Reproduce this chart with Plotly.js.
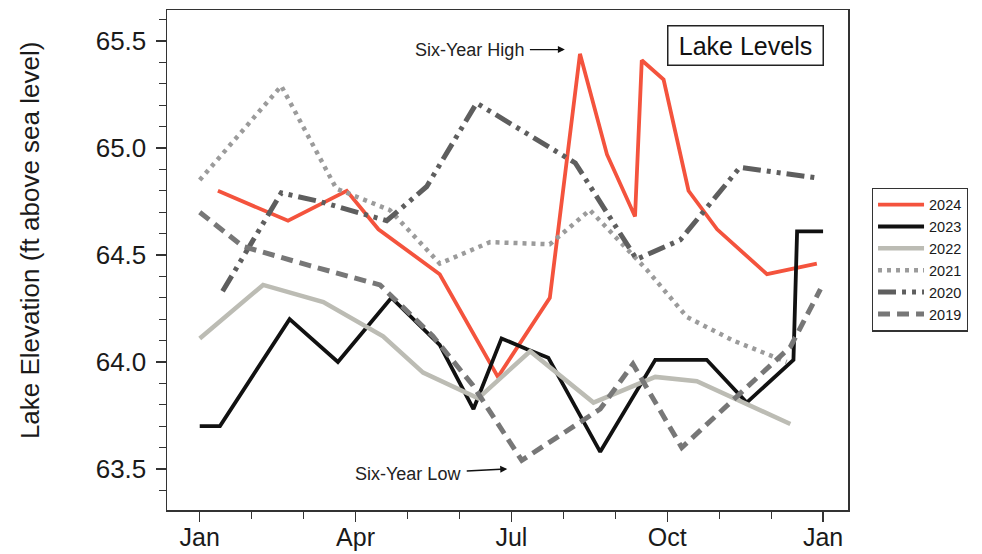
<!DOCTYPE html>
<html>
<head>
<meta charset="utf-8">
<script src="https://cdn.plot.ly/plotly-3.0.1.min.js"></script>
<style>html,body{margin:0;padding:0;background:#fff;}#chart{width:982px;height:554px;}</style>
</head>
<body>
<div id="chart"></div>
<script>
// Month position (0 = Jan, 12 = next Jan) and lake level (ft)
const months2024 = [0.35, 1.70, 2.83, 3.44, 4.62, 5.74, 6.74, 7.32, 7.84, 8.38, 8.51, 8.93, 9.41, 9.96, 10.92, 11.88];
const level2024  = [64.80, 64.66, 64.80, 64.62, 64.41, 63.93, 64.30, 65.44, 64.97, 64.68, 65.41, 65.32, 64.80, 64.62, 64.41, 64.46];

const months2023 = [0, 0.39, 1.73, 2.66, 3.69, 4.62, 5.27, 5.81, 6.29, 6.71, 7.71, 8.77, 9.76, 10.53, 11.43, 11.50, 12.0];
const level2023  = [63.70, 63.70, 64.20, 64.00, 64.30, 64.08, 63.78, 64.11, 64.06, 64.02, 63.58, 64.01, 64.01, 63.81, 64.01, 64.61, 64.61];

const months2022 = [0, 1.22, 2.38, 3.53, 4.30, 5.36, 6.36, 7.58, 8.77, 9.57, 11.37];
const level2022  = [64.11, 64.36, 64.28, 64.12, 63.95, 63.83, 64.05, 63.81, 63.93, 63.91, 63.71];

const months2021 = [0, 1.57, 2.63, 3.66, 4.62, 5.59, 6.74, 7.51, 8.61, 9.38, 10.27, 11.30];
const level2021  = [64.85, 65.29, 64.81, 64.71, 64.46, 64.56, 64.55, 64.71, 64.43, 64.21, 64.10, 64.00];

const months2020 = [0.44, 1.57, 2.31, 3.60, 4.37, 5.33, 7.23, 8.41, 9.25, 10.40, 11.88];
const level2020  = [64.33, 64.79, 64.75, 64.66, 64.82, 65.21, 64.93, 64.48, 64.57, 64.91, 64.86];

const months2019 = [0, 0.83, 2.12, 3.47, 4.49, 5.26, 6.20, 7.71, 8.34, 9.28, 11.37, 11.95];
const level2019  = [64.70, 64.54, 64.45, 64.36, 64.12, 63.89, 63.54, 63.78, 63.99, 63.60, 64.07, 64.34];

const tickVals   = [0, 3, 6, 9, 12];
const tickLabels = ['Jan', 'Apr', 'Jul', 'Oct', 'Jan'];
const yTickVals  = [63.5, 64.0, 64.5, 65.0, 65.5];

const FONT = 'Liberation Sans, Arial, Helvetica, sans-serif';

const traces = [
  {x: months2024, y: level2024, name: '2024', line: {color: '#f4533d', width: 3.8}},
  {x: months2023, y: level2023, name: '2023', line: {color: '#111111', width: 3.8}},
  {x: months2022, y: level2022, name: '2022', line: {color: '#bcbcb4', width: 4.5}},
  {x: months2021, y: level2021, name: '2021', line: {color: '#9b9b9b', width: 4.5, dash: '4px,5px'}},
  {x: months2020, y: level2020, name: '2020', line: {color: '#5e5e5e', width: 5, dash: '18px,6px,4px,6px,4px,6px'}},
  {x: months2019, y: level2019, name: '2019', line: {color: '#777777', width: 5, dash: '12px,7px'}}
].map(t => Object.assign({type: 'scatter', mode: 'lines', hoverinfo: 'skip'}, t));

const layout = {
  width: 982, height: 554,
  margin: {l: 167, r: 134, t: 10, b: 44},
  paper_bgcolor: '#ffffff', plot_bgcolor: '#ffffff',
  font: {family: FONT, color: '#1a1a1a'},
  showlegend: true,
  legend: {
    x: 1.035, xanchor: 'left', y: 0.645, yanchor: 'top',
    bordercolor: '#333', borderwidth: 1.2,
    font: {size: 14.5, family: FONT, color: '#1a1a1a'},
    itemwidth: 46, tracegroupgap: 0
  },
  xaxis: {
    range: [-0.63, 12.48], tickvals: tickVals, ticktext: tickLabels,
    showgrid: false, zeroline: false,
    showline: true, linecolor: '#333', linewidth: 1.5, mirror: true,
    ticks: 'outside', ticklen: 10, tickwidth: 1.3, tickcolor: '#333',
    ticklabelstandoff: -6,
    tickfont: {size: 25, family: FONT, color: '#1a1a1a'},
    minor: {dtick: 1, ticks: 'outside', ticklen: 7, tickwidth: 1.2, tickcolor: '#333', showgrid: false}
  },
  yaxis: {
    range: [63.308, 65.645], tickvals: yTickVals, tickformat: '.1f',
    showgrid: false, zeroline: false,
    showline: true, linecolor: '#333', linewidth: 1.5, mirror: true,
    ticks: 'outside', ticklen: 10, tickwidth: 1.3, tickcolor: '#333',
    ticklabelstandoff: 4,
    tickfont: {size: 26, family: FONT, color: '#1a1a1a'},
    minor: {dtick: 0.1, ticks: 'outside', ticklen: 7, tickwidth: 1.2, tickcolor: '#333', showgrid: false}
  },
  annotations: [
    {xref: 'paper', yref: 'paper', x: -0.201, y: 0.538, xanchor: 'center', yanchor: 'middle',
     text: 'Lake Elevation (ft above sea level)', textangle: -90, showarrow: false,
     font: {size: 26, family: FONT, color: '#1a1a1a'}},
    {xref: 'paper', yref: 'paper', x: 0.849, y: 0.928, xanchor: 'center', yanchor: 'middle',
     text: 'Lake Levels', showarrow: false, font: {size: 25, family: FONT, color: '#111'},
     bordercolor: '#222', borderwidth: 1.5, borderpad: 2, width: 150, height: 34, bgcolor: '#fff'},
    {xref: 'x', yref: 'y', x: 7.03, y: 65.46, ax: -95, ay: 0, axref: 'pixel', ayref: 'pixel',
     text: 'Six-Year High', showarrow: true, arrowhead: 2, arrowsize: 1, arrowwidth: 1.4, arrowcolor: '#111',
     standoff: 0, borderpad: 5, font: {size: 18, family: FONT, color: '#222'}},
    {xref: 'x', yref: 'y', x: 5.92, y: 63.50, ax: -99, ay: 5, axref: 'pixel', ayref: 'pixel',
     text: 'Six-Year Low', showarrow: true, arrowhead: 2, arrowsize: 1, arrowwidth: 1.4, arrowcolor: '#111',
     standoff: 0, borderpad: 5, font: {size: 18, family: FONT, color: '#222'}}
  ]
};

Plotly.newPlot('chart', traces, layout, {staticPlot: true, displayModeBar: false});
</script>
</body>
</html>
